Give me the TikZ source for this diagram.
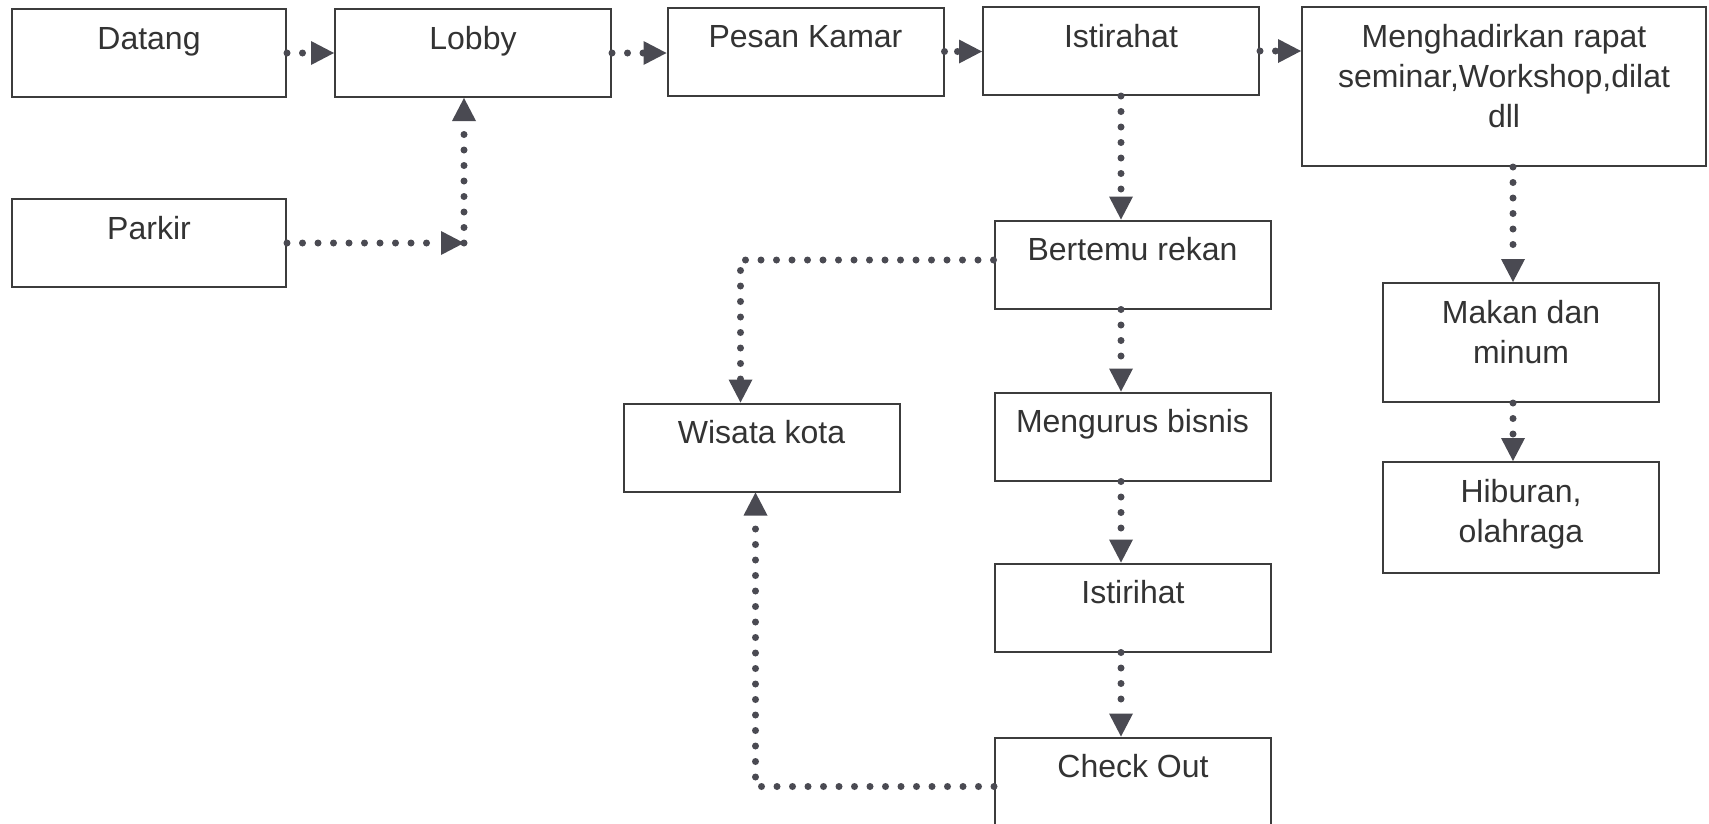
\documentclass[tikz,border=0pt]{standalone}
\usepackage{fontspec}
\setmainfont{Liberation Sans}
\usetikzlibrary{arrows.meta,calc}
\definecolor{framec}{HTML}{3C3C3C}
\definecolor{flowc}{HTML}{4A4A52}
\definecolor{inkc}{HTML}{333333}
\tikzset{
  stage/.style={draw=framec, line width=2pt, inner sep=0pt,
    text height=40pt, text depth=48pt, minimum width=276pt,
    font=\fontsize{32}{40}\selectfont, text=inkc},
  flow/.style={draw=flowc, line width=7pt, line cap=round,
    dash pattern=on 0pt off 15.5pt,
    -{Triangle[length=23pt,width=24pt,line width=0pt]}},
  tightflow/.style={flow, dash pattern=on 0pt off 13pt},
}
\newcommand{\lines}[1]{\begin{tabular}[t]{@{}c@{}}#1\end{tabular}}
\begin{document}
\begin{tikzpicture}[x=1pt,y=-1pt]
  \fill[white] (0,0) rectangle (1709,823);
  \useasboundingbox (0,0) rectangle (1709,823);

  % top row
  \node[stage, minimum width=274pt] (datang) at (149,53) {Datang};
  \node[stage] (lobby) at (473,53) {Lobby};
  \node[stage] (pesan) at (805.5,51.5) {Pesan Kamar};
  \node[stage] (istirahat) at (1121,51) {Istirahat};
  \node[stage, minimum width=404pt, text depth=119pt] (meet) at (1504,86.5)
    {\lines{Menghadirkan rapat\\seminar,Workshop,dilat\\dll}};

  % parking
  \node[stage, minimum width=274pt] (parkir) at (149,243) {Parkir};

  % middle column
  \node[stage] (bertemu) at (1132.5,264.5) {Bertemu rekan};
  \node[stage] (mengurus) at (1132.5,436.5) {Mengurus bisnis};
  \node[stage] (istirihat) at (1133,607.5) {Istirihat};
  \node[stage] (checkout) at (1133,781.5) {Check Out};

  % city tour
  \node[stage] (wisata) at (761.5,447.5) {Wisata kota};

  % right column
  \node[stage, text depth=79pt] (makan) at (1521,342.5) {\lines{Makan dan\\minum}};
  \node[stage, text depth=71pt] (hiburan) at (1521,517.5) {\lines{Hiburan,\\olahraga}};

  % connector end points
  \coordinate (lobbyin) at ($(lobby.south)+(-9,0)$);
  \coordinate (pk) at (lobbyin |- parkir.east);
  \coordinate (wisin) at ($(wisata.north)+(-21,0)$);
  \coordinate (wisout) at ($(wisata.south)+(-6,0)$);
  \coordinate (makin) at ($(makan.north)+(-8,0)$);
  \coordinate (bertemuout) at ($(bertemu.west)+(0,-4.5)$);
  \coordinate (checkoutout) at ($(checkout.west)+(0,5)$);

  % main flow along the top
  \draw[flow] (datang.east) -- (datang.east -| lobby.west);
  \draw[flow] (lobby.east) -- (lobby.east -| pesan.west);
  \draw[tightflow] (pesan.east) -- (pesan.east -| istirahat.west);
  \draw[flow] (istirahat.east) -- (istirahat.east -| meet.west);

  % from parking into the lobby
  \draw[flow] (parkir.east) -- (pk);
  \draw[flow] (pk) -- (lobbyin);

  % business stay
  \draw[flow] (istirahat.south) -- (istirahat.south |- bertemu.north);
  \draw[flow] (bertemu.south -| istirahat.south) -- (mengurus.north -| istirahat.south);
  \draw[flow] (mengurus.south -| istirahat.south) -- (istirihat.north -| istirahat.south);
  \draw[flow] (istirihat.south -| istirahat.south) -- (checkout.north -| istirahat.south);

  % city tour branches
  \draw[flow] (bertemuout) -| (wisin);
  \draw[flow] (checkoutout) -| (wisout);

  % meeting branch
  \draw[flow] (meet.south -| makin) -- (makin);
  \draw[flow] (makan.south -| makin) -- (hiburan.north -| makin);
\end{tikzpicture}
\end{document}
